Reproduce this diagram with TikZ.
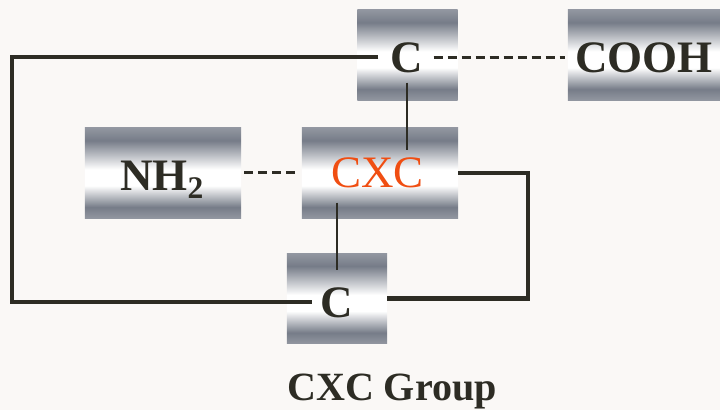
\documentclass[tikz,border=0pt]{standalone}
\usepackage{fontspec}
\setmainfont{Liberation Serif}
\usepackage{tikz}
\usetikzlibrary{positioning,calc}
\definecolor{bargray}{RGB}{118,124,136}
\definecolor{inkdark}{RGB}{45,44,36}
\definecolor{cxcorange}{RGB}{240,78,18}
\definecolor{paper}{RGB}{250,248,246}
% grey at both edges, white band in the middle where the label sits
\pgfdeclareverticalshading{barshade}{100bp}{color(0bp)=(bargray!80); color(25bp)=(bargray!80);
  color(31bp)=(bargray); color(43bp)=(white); color(52bp)=(white); color(68bp)=(bargray);
  color(75bp)=(bargray!80); color(100bp)=(bargray!80)}
\tikzset{
  bar/.style={rectangle,draw=none,inner sep=0pt,shading=barshade,minimum width=#1,
    minimum height=2.25cm},
  bar/.default=2.5cm,
  lbl/.style={inner sep=0pt,anchor=base,text=inkdark,font=\fontsize{32}{36}\selectfont\bfseries},
  frame/.style={line width=3pt,color=inkdark},
  bond/.style={line width=1.6pt,color=inkdark},
  dsh/.style={line width=2pt,color=inkdark,dash pattern=on 0.225cm off 0.125cm}
}
\begin{document}
\begin{tikzpicture}[x=0.025cm,y=-0.025cm]
  \fill[paper] (0,0) rectangle (720,410);
  \useasboundingbox (0,0) rectangle (720,410);

  % shaded bars
  \node[bar] (barc1) at (407.5,55) {};
  \node[bar=3.85cm] (barcooh) at (645,55) {};
  \node[bar=3.9cm] (barnh2) at (163,173) {};
  \node[bar=3.9cm] (barcxc) at (380,173) {};
  \node[bar] (barc2) at (337,298.5) {};

  % labels
  \node[lbl] (c1) at (407,72) {C};
  \node[lbl] (cooh) at (644,72) {COOH};
  \node[lbl] (nh2) at (162,190) {NH$_\mathbf{2}$};
  \node[lbl,text=cxcorange,font=\fontsize{32}{36}\selectfont] (cxc) at (377.5,187) {CXC};
  \node[lbl] (c2) at (337,317) {C};
  \node[lbl,font=\fontsize{28.5}{32}\selectfont\bfseries] (title) at (392,400) {CXC Group};

  \coordinate (lx) at (12,0);
  \coordinate (rx) at (528,0);

  \draw[frame,shorten <=0.3cm,shorten >=0.22cm] (c1.west) -- (c1.west -| lx) -- (c2.west -| lx) -- (c2.west);
  \draw[frame] (barcxc.east) -- (barcxc.east -| rx) -- (barc2.east -| rx) -- (barc2.east);

  \draw[bond,shorten <=0.25cm,shorten >=0.18cm] (c1.south) -- (c1.south |- cxc.north);
  \draw[bond,shorten <=0.375cm,shorten >=0.425cm] (c2.north |- cxc.south) -- (c2.north);

  \draw[dsh,shorten <=0.25cm,shorten >=0.25cm] (c1.east) -- (cooh.west |- c1.east);
  \draw[dsh,shorten <=1cm,shorten >=0.8cm] (nh2.east |- cxc.west) -- (cxc.west);
\end{tikzpicture}
\end{document}
